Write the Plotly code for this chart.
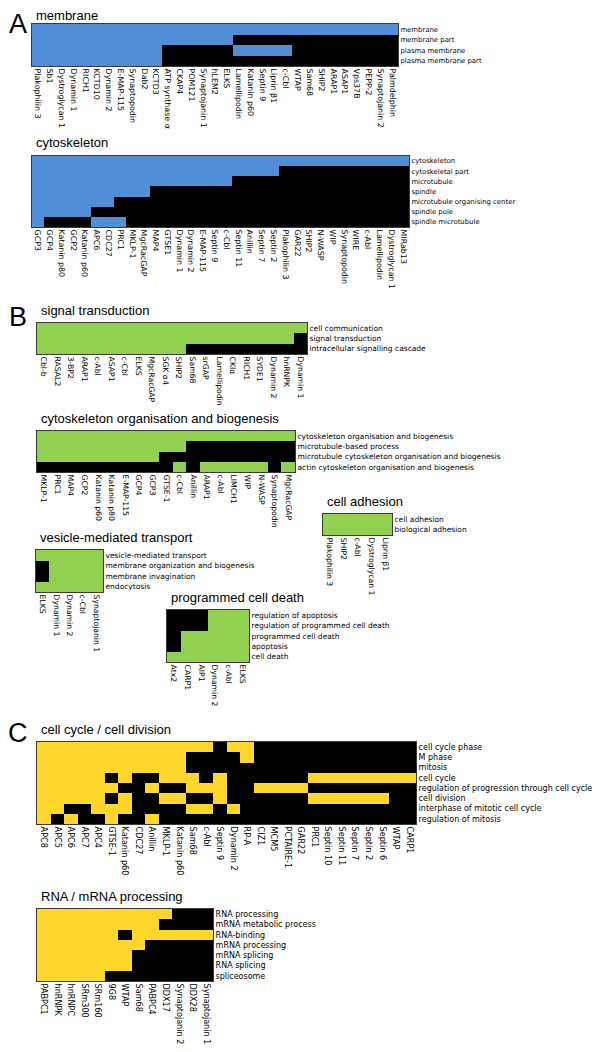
import plotly.graph_objects as go

# the page body keeps an 8 px margin, so the figure is drawn 8 px smaller and shifted
OFF = 8
W, H = 600 - OFF, 1052 - OFF

BLUE = 'rgb(80, 143, 215)'
GREEN = 'rgb(146, 208, 80)'
YELLOW = 'rgb(255, 214, 42)'

# 1 = gene annotated with term (coloured), 0 = not annotated (black)
membrane_genes = ["Plakophilin 3", "Sb1", "Dystroglycan 1", "Dynamin 1", "RICH1", "KCTD10",
                  "Dynamin 2", "E-MAP-115", "Synaptopodin", "Dab2", "KCTD3", "ATP synthase α",
                  "CKAP4", "POM121", "Synaptojanin 1", "hLEM2", "ELKS", "Lamellipodin",
                  "Katanin p60", "Septin 9", "Liprin β1", "c-Cbl", "WTAP", "Sam68", "SHIP2",
                  "ARAP1", "ASAP1", "Vps37B", "PEPP-2", "Synaptojanin 2", "Palmdelphin"]
membrane_terms = ["membrane", "membrane part", "plasma membrane", "plasma membrane part"]
membrane_hits = ["1111111111111111111111111111111",
                 "1111111111111111100000000000000",
                 "1111111111100000011111000000000",
                 "1111111111100000000000000000000"]

cytoskeleton_genes = ["GCP3", "GCP4", "Katanin p80", "GCP2", "Katanin p60", "APC6", "CDC27",
                      "PRC1", "MKLP-1", "MgcRacGAP", "MAP4", "GTSE1", "Dynamin 1", "Dynamin 2",
                      "E-MAP-115", "Septin 9", "c-Cbl", "Septin 11", "Anillin", "Septin 7",
                      "Septin 2", "Plakophilin 3", "GAR22", "SHIP2", "N-WASP", "WIP",
                      "Synaptopodin", "WIRE", "c-Abl", "Lamellipodin", "Dystroglycan 1", "MIRab13"]
cytoskeleton_terms = ["cytoskeleton", "cytoskeletal part", "microtubule", "spindle",
                      "microtubule organising center", "spindle pole", "spindle microtubule"]
cytoskeleton_hits = ["11111111111111111111111111111111",
                     "11111111111111111111100000000000",
                     "11111111111111111000000000000000",
                     "11111111110000000000000000000000",
                     "11111110000000000000000000000000",
                     "11111000000000000000000000000000",
                     "10000111000000000000000000000000"]

signal_genes = ["Cbl-b", "RASAL2", "3-BP2", "ARAP1", "c-Abl", "ASAP1", "c-Cbl", "ELKS",
                "MgcRacGAP", "SGK α4", "SHIP2", "Sam68", "srGAP", "Lamellipodin", "CKIα",
                "RICH1", "SYDE1", "Dynamin 2", "hnRNPK", "Dynamin 1"]
signal_terms = ["cell communication", "signal transduction", "intracellular signalling cascade"]
signal_hits = ["11111111111111111111",
               "11111111111111111110",
               "11111111111000000000"]

cytorg_genes = ["MKLP-1", "PRC1", "MAP4", "GCP2", "Katanin p60", "Katanin p80", "E-MAP-115",
                "GCP4", "GCP3", "GTSE-1", "c-Cbl", "Anillin", "ARAP1", "c-Abl", "LIMCH1",
                "WIP", "N-WASP", "Synaptopodin", "MgcRacGAP"]
cytorg_terms = ["cytoskeleton organisation and biogenesis", "microtubule-based process",
                "microtubule cytoskeleton organisation and biogenesis",
                "actin cytoskeleton organisation and biogenesis"]
cytorg_hits = ["1111111111111111111",
               "1111111111100000000",
               "1111111110000000000",
               "0000000000101111101"]

adhesion_genes = ["Plakophilin 3", "SHIP2", "c-Abl", "Dystroglycan 1", "Liprin β1"]
adhesion_terms = ["cell adhesion", "biological adhesion"]
adhesion_hits = ["11111",
                 "11111"]

vesicle_genes = ["ELKS", "Dynamin 1", "Dynamin 2", "c-Cbl", "Synaptojanin 1"]
vesicle_terms = ["vesicle-mediated transport", "membrane organization and biogenesis",
                 "membrane invagination", "endocytosis"]
vesicle_hits = ["11111",
                "01111",
                "01111",
                "11111"]

death_genes = ["Atx2", "CARP1", "AIP1", "Dynamin 2", "c-Abl", "ELKS"]
death_terms = ["regulation of apoptosis", "regulation of programmed cell death",
               "programmed cell death", "apoptosis", "cell death"]
death_hits = ["000111",
              "000111",
              "011111",
              "011111",
              "111111"]

cycle_genes = ["APC8", "APC5", "APC6", "APC7", "APC4", "GTSE-1", "Katanin p60", "CDC27",
               "Anillin", "MKLP-1", "Katanin p60", "Sam68", "c-Abl", "Septin 9", "Dynamin 2",
               "RP-A", "CIZ1", "MCM5", "PCTAIRE-1", "GAR22", "PRC1", "Septin 10", "Septin 11",
               "Septin 7", "Septin 2", "Septin 6", "WTAP", "CARP1"]
cycle_terms = ["cell cycle phase", "M phase", "mitosis", "cell cycle",
               "regulation of progression through cell cycle", "cell division",
               "interphase of mitotic cell cycle", "regulation of mitosis"]
cycle_hits = ["1111111111111011000000000000",
              "1111111111100001000000000000",
              "1111111111100000000000000000",
              "1111101001110100000011111111",
              "1111110010011100111100000000",
              "1111101001100100000011111100",
              "1100111000011010000000000000",
              "1010010010000000000000000000"]

rna_genes = ["PABPC1", "hnRNPK", "hnRNPC", "SRm300", "SRm160", "9G8", "WTAP", "Sam68",
             "PABPC4", "DDX17", "Synaptojanin 2", "DDX28", "Synaptojanin 1"]
rna_terms = ["RNA processing", "mRNA metabolic process", "RNA-binding", "mRNA processing",
             "mRNA splicing", "RNA splicing", "spliceosome"]
rna_hits = ["1111111111000",
            "1111111110000",
            "1111110111111",
            "1111111100000",
            "1111111000000",
            "1111111000000",
            "1111100000000"]


def px(x):
    return (x - OFF) / W


def py(y):
    return 1 - (y - OFF) / H


fig = go.Figure()
panel_count = 0


def add_panel(genes, terms, hits, color, box, title, xsize, ysize, title_y=None):
    global panel_count
    panel_count += 1
    x0, y0, x1, y1 = box
    z = [[int(c) for c in row] for row in hits]
    for row in z:
        assert len(row) == len(genes), title
    suffix = '' if panel_count == 1 else str(panel_count)
    fig.add_trace(go.Heatmap(
        z=z,
        x=list(range(len(genes))),
        y=list(range(len(terms))),
        colorscale=[[0, 'black'], [1, color]],
        zmin=0, zmax=1,
        showscale=False,
        xaxis='x' + suffix,
        yaxis='y' + suffix,
        hoverinfo='skip',
    ))
    fig.update_layout({
        'xaxis' + suffix: dict(
            domain=[px(x0), px(x1)], anchor='y' + suffix,
            range=[-0.5, len(genes) - 0.5],
            tickmode='array', tickvals=list(range(len(genes))), ticktext=genes,
            tickangle=90, ticks='', showgrid=False, zeroline=False,
            showline=True, mirror=True, linecolor='#3a3a3a', linewidth=1,
            tickfont=dict(family='DejaVu Sans', size=xsize, color='black'), fixedrange=True),
        'yaxis' + suffix: dict(
            domain=[py(y1), py(y0)], anchor='x' + suffix,
            range=[len(terms) - 0.5, -0.5], side='right',
            tickmode='array', tickvals=list(range(len(terms))), ticktext=terms,
            ticks='', showgrid=False, zeroline=False,
            showline=True, mirror=True, linecolor='#3a3a3a', linewidth=1,
            tickfont=dict(family='DejaVu Sans', size=ysize, color='black'), fixedrange=True),
    })
    ty = title_y if title_y is not None else y0 - 13
    fig.add_annotation(text=title, x=px(x0 + 3), y=py(ty), xref='paper', yref='paper',
                       xanchor='left', yanchor='middle', showarrow=False, borderpad=0,
                       font=dict(family='Liberation Sans', size=13, color='black'))


add_panel(membrane_genes, membrane_terms, membrane_hits, BLUE, (32, 24, 398, 66), 'membrane', 7.9, 6.9, title_y=16)
add_panel(cytoskeleton_genes, cytoskeleton_terms, cytoskeleton_hits, BLUE, (32, 156, 409, 227), 'cytoskeleton', 7.9, 6.9)
add_panel(signal_genes, signal_terms, signal_hits, GREEN, (37, 323, 307, 354), 'signal transduction', 7.7, 7.5)
add_panel(cytorg_genes, cytorg_terms, cytorg_hits, GREEN, (37, 431, 295, 472), 'cytoskeleton organisation and biogenesis', 7.7, 7.5)
add_panel(adhesion_genes, adhesion_terms, adhesion_hits, GREEN, (323, 514, 392, 535), 'cell adhesion', 7.7, 7.5)
add_panel(vesicle_genes, vesicle_terms, vesicle_hits, GREEN, (36, 550, 103, 592), 'vesicle-mediated transport', 7.7, 7.5)
add_panel(death_genes, death_terms, death_hits, GREEN, (167, 610, 249, 662), 'programmed cell death', 7.7, 7.5)
add_panel(cycle_genes, cycle_terms, cycle_hits, YELLOW, (37, 742, 416, 824), 'cell cycle / cell division', 8.1, 8)
add_panel(rna_genes, rna_terms, rna_hits, YELLOW, (37, 909, 213, 981), 'RNA / mRNA processing', 8.1, 8)

# panel letters, kept just inside the drawable area
for letter, ly, anchor in [('A', OFF, 'top'), ('B', 317, 'middle'), ('C', 733, 'middle')]:
    fig.add_annotation(text=letter, x=px(18), y=py(ly), xref='paper', yref='paper',
                       xanchor='center', yanchor=anchor, showarrow=False, borderpad=0,
                       font=dict(family='Liberation Sans', size=27, color='black'))

fig.update_layout(
    width=W, height=H, autosize=False,
    margin=dict(l=0, r=0, t=0, b=0, pad=0),
    paper_bgcolor='white', plot_bgcolor='white',
    showlegend=False,
)

fig.write_html("out.html")
